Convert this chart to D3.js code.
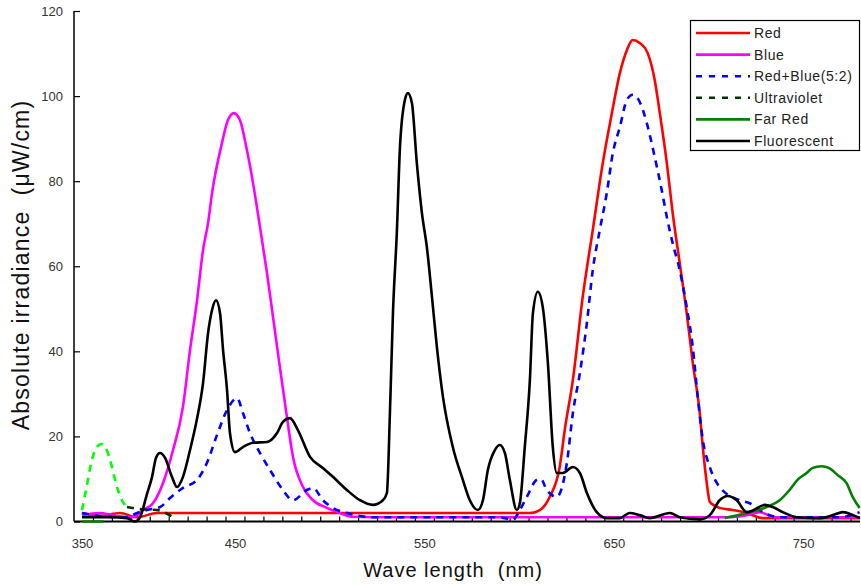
<!DOCTYPE html>
<html>
<head>
<meta charset="utf-8">
<script src="https://cdn.jsdelivr.net/npm/d3@7"></script>
<style>
  body { margin: 0; background: #fff; }
  svg text { font-family: "Liberation Sans", Arial, sans-serif; }
</style>
</head>
<body>
<div id="chart"></div>
<script>
// wavelength (nm), irradiance (uW/cm)
const wavelengthTicks = [350, 450, 550, 650, 750];
const irradianceTicks = [0, 20, 40, 60, 80, 100, 120];

const redLed = [[350,2],[361.8,1.3],[374.8,2],[386,1],[399,2],[500,2],[605.7,2],[611,2.7],[616.2,5.8],[621.5,13],
  [624.1,21.5],[628.4,33.3],[633.6,52.8],[638.9,68.5],[644.2,84.3],[649,96],[653.2,105.4],[656.9,110.8],[660,113.2],
  [663.7,112.5],[667.9,110.1],[671.6,103.8],[674.3,96],[678,84.3],[681.1,72.5],[684.8,60.8],[688.5,49],[691.7,37.3],
  [695.4,25.5],[697,17.5],[699.1,9],[700.7,4.6],[705.9,3.2],[712.8,2.7],[720.2,2],[728.6,0.8],[780,0.8]];

const blueLed = [[350,1.5],[361.8,2],[372.9,1.3],[383.3,1],[389.9,2.7],[396.4,4.3],[402.9,9],[409.5,16.8],[416,27],
  [420.6,40.3],[425.2,52],[429.1,63.8],[432.4,70.2],[435,77.2],[441.5,89],[445.4,94.4],[449.3,96],[452.6,94.4],
  [456.3,87.3],[459.5,79.6],[463.2,69.2],[466.9,58.4],[470.1,48],[473.7,36.3],[477.4,24.6],[480.6,15.2],[485.9,8.1],
  [491.2,5],[498.5,3.2],[505.4,2],[512.3,1.1],[522.8,1],[620,1],[709.6,1],[720.2,1.5],[727,2.2],[735,1],[780,1]];

const redBlueMix = [[350,2],[361.8,1.3],[379.4,1],[385.9,2],[392.5,2.7],[401,3.4],[407.5,5.5],[416,7.9],[425.2,9.8],
  [431.7,13.8],[438.2,20.3],[444.8,26.2],[451.1,29],[454.2,25.5],[457.9,20.8],[463.2,16.1],[468.5,12.1],[475.3,7.4],
  [480.6,5],[488,7.4],[491.2,7.9],[496.4,5],[501.7,3.2],[509.1,2],[522.8,1],[589.8,1],[596.7,0.4],[600.4,2.7],
  [604.1,5.8],[609.4,9.8],[611.5,10],[614.6,7.4],[619.9,5.8],[625.2,13.7],[628.4,25.5],[632.1,34.9],[635.8,46.7],
  [638.9,59.1],[642.6,68.5],[646.3,77.2],[649.5,86.6],[653.2,92.7],[656.9,99.1],[660,100.3],[663.7,98.6],[667.4,93.7],
  [671.6,85.7],[675.3,77.9],[678,71.6],[681.1,65.4],[684.8,59.1],[688.5,50.4],[691.7,41],[694.3,29.3],[697,19.2],
  [700.7,12.8],[705.9,8.1],[716.5,5],[721.8,4.3],[728.6,2.2],[737.6,1],[769.3,1],[779.8,2.2]];

const ultraviolet = [[350,2.7],[352.6,7.4],[356.5,14.5],[360.5,17.8],[363,18.2],[365.7,17.2],[368.3,14.5],[372.9,8.1],
  [376.1,5],[379.4,3.4],[387.9,2.9],[399,2.7],[409.5,1]];
const uvPeakCount = 10; // first points are drawn light green

const farRed = [[350,0],[364,0],[364.5,null],[708.6,0.8],[720.2,2],[730.7,3.4],[737.6,5],[742.8,7.4],[747,9.8],
  [751.8,11.4],[755,12.6],[759.7,13],[763.5,12.6],[768.2,10.9],[772.9,9],[776.1,5.8],[779.8,3.2]];

const fluorescent = [[350,1],[368.3,1],[379.4,0.8],[384.6,0],[387.9,1],[392.5,6.5],[395.8,10.5],[398.4,15],[401,16.1],
  [404.2,15],[408.8,10.5],[412.1,8.1],[416,10.5],[420.6,16.8],[425.2,24.2],[429.1,32.5],[432.4,44.3],[435,49.7],
  [437.6,52],[440.2,49],[442.2,40.3],[444.8,30.9],[446.7,20.8],[450,16.3],[454.2,17.5],[459.5,18.5],[466.9,18.7],
  [472.2,20.8],[475.3,23.4],[479,24.3],[483.2,21.5],[489.6,15.2],[496.4,12.6],[501.7,10.5],[509.1,7.4],[516,5],
  [522.8,3.9],[528.1,5],[530.2,6.7],[531.8,25.5],[533.4,49],[535.5,68.5],[537.1,88],[539.7,99.1],[541.3,100.7],
  [543.4,98.4],[546,84.3],[548.7,72.5],[551.3,64.5],[554,52.8],[556.6,41],[559.8,29.3],[565,17.5],[570.3,9.8],
  [574,5],[578.2,2.7],[580.9,5],[583.5,12.1],[587.2,16.8],[589.8,18],[592.5,16.1],[595.1,9.8],[598.8,2.7],
  [600.4,4.3],[603,17.5],[605.7,33.3],[607.3,49],[609.9,54],[612.5,50.4],[615.2,37.3],[617.8,17.5],[619.9,11.4],
  [623.1,11.4],[628.4,12.8],[632.1,11.4],[635.8,6.7],[641,2.2],[646.3,0.8],[653.2,0.8],[658.4,2],[663.7,1.5],
  [669,0.8],[679.6,2],[684.8,1],[695.4,0.5],[700.7,1.5],[705.9,5],[710.2,6],[714.9,5],[720.2,2.2],[723.4,2.6],
  [729.7,3.9],[733.9,3.4],[739.2,2.2],[746.6,1],[758.8,0.8],[765.7,1.5],[771,2.2],[776.3,1.5],[780,0.8]];

const seriesNames = ["Red", "Blue", "Red+Blue(5:2)", "Ultraviolet", "Far Red", "Fluorescent"];

const w = 861, h = 587;
const axisLeftX = 74, axisBottomY = 521.5, plotTop = 11, plotRight = 860;

const x = d3.scaleLinear().domain([350, 450, 780]).range([82, 235, plotRight]);
const y = d3.scaleLinear().domain([0, 120]).range([axisBottomY, plotTop]);

const svg = d3.select("#chart").append("svg")
  .attr("width", w)
  .attr("height", h);

// minor ticks every 10 nm, same pixel spacing carried to the left part
const step = x(465) - x(455);
const minorTicks = d3.range(455, 780, 10)
  .concat(d3.range(1, 9).map(k => x.invert(x(455) - k * step)));

svg.append("g")
  .attr("transform", `translate(0, ${axisBottomY})`)
  .call(d3.axisBottom(x).tickValues(minorTicks).tickSize(-5).tickFormat(""))
  .call(g => g.select(".domain").remove())
  .call(g => g.selectAll("line").attr("stroke", "#000").attr("stroke-width", 1.2));

svg.append("g")
  .attr("id", "x-axis")
  .attr("transform", `translate(0, ${axisBottomY})`)
  .call(d3.axisBottom(x).tickValues(wavelengthTicks).tickSize(0).tickPadding(17))
  .call(g => g.select(".domain").remove())
  .call(g => g.selectAll("text").attr("font-size", 13).attr("fill", "#333")
    .attr("font-family", "'Liberation Sans', Arial, sans-serif"));

svg.append("g")
  .attr("id", "y-axis")
  .attr("transform", `translate(${axisLeftX}, 0)`)
  .call(d3.axisLeft(y).tickValues(irradianceTicks).tickSize(-6).tickPadding(11))
  .call(g => g.select(".domain").remove())
  .call(g => g.selectAll("line").attr("stroke", "#000").attr("stroke-width", 1.2))
  .call(g => g.selectAll("text").attr("font-size", 13).attr("fill", "#333")
    .attr("font-family", "'Liberation Sans', Arial, sans-serif"));

// axis frame
svg.append("line")
   .attr("x1", axisLeftX).attr("x2", axisLeftX)
   .attr("y1", plotTop).attr("y2", axisBottomY)
   .attr("stroke", "#000").attr("stroke-width", 1.5);
svg.append("line")
   .attr("x1", axisLeftX).attr("x2", plotRight)
   .attr("y1", axisBottomY).attr("y2", axisBottomY)
   .attr("stroke", "#000").attr("stroke-width", 2);

const line = d3.line()
  .defined(d => d[1] != null)
  .x(d => x(d[0]))
  .y(d => y(d[1]))
  .curve(d3.curveMonotoneX);

const styles = [
  { data: redLed, color: "#ff0000", dash: null },
  { data: blueLed, color: "#ff00ff", dash: null },
  { data: redBlueMix, color: "#0000ff", dash: "7,6" },
  { data: ultraviolet.slice(uvPeakCount - 1), color: "#003300", dash: "7,6" },
  { data: ultraviolet.slice(0, uvPeakCount), color: "#00ff00", dash: "7,6" },
  { data: farRed, color: "#008000", dash: null },
  { data: fluorescent, color: "#000000", dash: null }
];

svg.selectAll(".series")
   .data(styles)
   .enter()
   .append("path")
   .attr("class", "series")
   .attr("d", d => line(d.data))
   .attr("fill", "none")
   .attr("stroke", d => d.color)
   .attr("stroke-width", 2.6)
   .attr("stroke-dasharray", d => d.dash)
   .attr("stroke-linejoin", "round");

// axis titles
svg.append("text")
   .attr("x", 453)
   .attr("y", 577)
   .attr("text-anchor", "middle")
   .attr("font-size", 20)
   .attr("letter-spacing", 1)
   .attr("fill", "#111")
   .style("white-space", "pre")
   .text("Wave length  (nm)");

svg.append("text")
   .attr("transform", "translate(29, 265) rotate(-90)")
   .attr("text-anchor", "middle")
   .attr("font-size", 23)
   .attr("letter-spacing", 1.2)
   .attr("fill", "#111")
   .style("white-space", "pre")
   .text("Absolute irradiance  (\u03bcW/cm)");

// legend
const legendStyles = [
  { color: "#ff0000", dash: null },
  { color: "#ff00ff", dash: null },
  { color: "#0000ff", dash: "6,7" },
  { color: "#003300", dash: "6,7" },
  { color: "#008000", dash: null },
  { color: "#000000", dash: null }
];

const legend = svg.append("g")
  .attr("id", "legend")
  .attr("transform", "translate(690, 20)");

legend.append("rect")
      .attr("x", 0.5)
      .attr("y", 0.5)
      .attr("width", 169)
      .attr("height", 130)
      .attr("fill", "#fff")
      .attr("stroke", "#000")
      .attr("stroke-width", 1.2);

const item = legend.selectAll(".item")
  .data(seriesNames)
  .enter()
  .append("g")
  .attr("class", "item")
  .attr("transform", (d, i) => `translate(0, ${13 + i * 21.6})`);

item.append("line")
    .attr("x1", 6).attr("x2", 60)
    .attr("stroke", (d, i) => legendStyles[i].color)
    .attr("stroke-width", 2.6)
    .attr("stroke-dasharray", (d, i) => legendStyles[i].dash);

item.append("text")
    .attr("x", 64)
    .attr("dy", "0.36em")
    .attr("font-size", 14)
    .attr("letter-spacing", 0.6)
    .attr("fill", "#222")
    .text(d => d);
</script>
</body>
</html>
